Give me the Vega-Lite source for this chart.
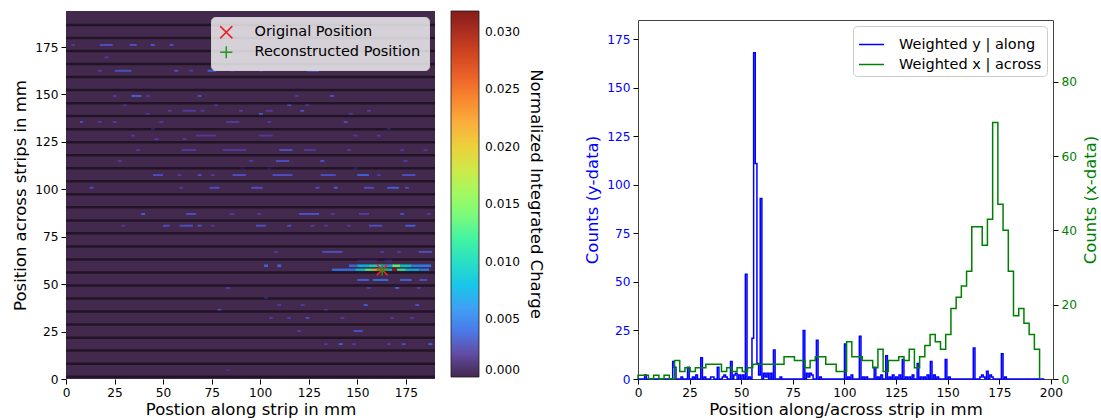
{
  "$schema": "https://vega.github.io/schema/vega-lite/v6.json",
  "padding": {"left": 12, "top": 11, "right": 2, "bottom": 0},
  "spacing": 40,
  "config": {
    "font": "DejaVu Sans",
    "view": {"stroke": null},
    "axis": {"labelFontSize": 12.2, "titleFontSize": 16.5, "titleFontWeight": "normal", "labelColor": "black", "titleColor": "black", "tickColor": "black", "domain": false, "grid": false, "tickSize": 5, "labelFlush": false, "labelOverlap": false, "labelPadding": 3, "titlePadding": 6},
    "axisX": {"titlePadding": 3, "labelPadding": 2},
    "legend": {"labelFontSize": 14.5, "titleFontWeight": "normal", "labelLimit": 400, "titleLimit": 500}
  },
  "datasets": {
    "cells": [
      {"x1":0,"x2":190,"y1":0,"y2":194,"q":0},
      {"x1":2.7,"x2":4.7,"y1":175.6,"y2":176.6,"q":0.0022},{"x1":17.4,"x2":24.1,"y1":175.6,"y2":176.6,"q":0.003},{"x1":32.8,"x2":36.4,"y1":175.6,"y2":176.6,"q":0.003},{"x1":43.6,"x2":45.6,"y1":175.6,"y2":176.6,"q":0.0038},{"x1":53.4,"x2":55.4,"y1":175.6,"y2":176.6,"q":0.003},
      {"x1":19.9,"x2":21.9,"y1":169.1,"y2":170.1,"q":0.0022},
      {"x1":16.4,"x2":18.4,"y1":162,"y2":163,"q":0.0022},{"x1":25.1,"x2":33.7,"y1":162,"y2":163,"q":0.003},{"x1":55.8,"x2":57.8,"y1":162,"y2":163,"q":0.003},{"x1":63.5,"x2":65.5,"y1":162,"y2":163,"q":0.0022},{"x1":72.9,"x2":77.3,"y1":162,"y2":163,"q":0.0038},{"x1":84.8,"x2":86.8,"y1":162,"y2":163,"q":0.0022},{"x1":99.4,"x2":101.4,"y1":162,"y2":163,"q":0.0022},{"x1":124.2,"x2":130.3,"y1":162,"y2":163,"q":0.003},
      {"x1":24.1,"x2":26.1,"y1":148.7,"y2":149.7,"q":0.0022},{"x1":33.7,"x2":38.8,"y1":148.7,"y2":149.7,"q":0.0038},{"x1":41.1,"x2":43.1,"y1":148.7,"y2":149.7,"q":0.0022},{"x1":67.8,"x2":69.8,"y1":148.7,"y2":149.7,"q":0.003},{"x1":118,"x2":120,"y1":148.7,"y2":149.7,"q":0.0022},{"x1":136,"x2":138,"y1":148.7,"y2":149.7,"q":0.003},
      {"x1":29.3,"x2":31.3,"y1":143.9,"y2":144.9,"q":0.0022},{"x1":76.3,"x2":78.3,"y1":143.9,"y2":144.9,"q":0.0022},{"x1":113.9,"x2":115.9,"y1":143.9,"y2":144.9,"q":0.003},{"x1":123.2,"x2":125.2,"y1":143.9,"y2":144.9,"q":0.0022},
      {"x1":52.4,"x2":54.4,"y1":140.9,"y2":141.9,"q":0.0022},{"x1":60,"x2":67,"y1":140.9,"y2":141.9,"q":0.0022},{"x1":69.3,"x2":71.3,"y1":140.9,"y2":141.9,"q":0.0022},{"x1":89.1,"x2":91.1,"y1":140.9,"y2":141.9,"q":0.0022},{"x1":103,"x2":106.4,"y1":140.9,"y2":141.9,"q":0.0022},{"x1":120.6,"x2":122.6,"y1":140.9,"y2":141.9,"q":0.003},{"x1":155,"x2":157,"y1":140.9,"y2":141.9,"q":0.0022},
      {"x1":41.1,"x2":43.1,"y1":139.2,"y2":140.2,"q":0.0022},{"x1":99.4,"x2":101.4,"y1":139.2,"y2":140.2,"q":0.0038},{"x1":145.6,"x2":147.6,"y1":139.2,"y2":140.2,"q":0.0022},
      {"x1":7.2,"x2":8.7,"y1":135,"y2":136,"q":0.003},{"x1":16.4,"x2":18.4,"y1":135,"y2":136,"q":0.0022},{"x1":24.1,"x2":26.1,"y1":135,"y2":136,"q":0.0022},{"x1":48.1,"x2":50.1,"y1":135,"y2":136,"q":0.0022},{"x1":82.4,"x2":89.3,"y1":135,"y2":136,"q":0.0022},{"x1":103.7,"x2":105.7,"y1":135,"y2":136,"q":0.0022},{"x1":143,"x2":145,"y1":135,"y2":136,"q":0.003},
      {"x1":43.8,"x2":45.8,"y1":131.3,"y2":132.3,"q":0.003},{"x1":165.2,"x2":167.2,"y1":131.3,"y2":132.3,"q":0.003},
      {"x1":33.5,"x2":35.5,"y1":127.8,"y2":128.8,"q":0.0022},{"x1":67,"x2":77.3,"y1":127.8,"y2":128.8,"q":0.0022},{"x1":99.5,"x2":106.4,"y1":127.8,"y2":128.8,"q":0.0022},{"x1":148.1,"x2":150.1,"y1":127.8,"y2":128.8,"q":0.0022},{"x1":160.1,"x2":162.1,"y1":127.8,"y2":128.8,"q":0.0022},
      {"x1":45.5,"x2":47.5,"y1":126,"y2":127,"q":0.0022},{"x1":60.1,"x2":62.1,"y1":126,"y2":127,"q":0.0022},
      {"x1":36.1,"x2":38.1,"y1":120.2,"y2":121.2,"q":0.0022},{"x1":59.4,"x2":67,"y1":120.2,"y2":121.2,"q":0.0022},{"x1":80.7,"x2":92.7,"y1":120.2,"y2":121.2,"q":0.0022},{"x1":109.8,"x2":116.6,"y1":120.2,"y2":121.2,"q":0.003},{"x1":122.6,"x2":128.6,"y1":120.2,"y2":121.2,"q":0.0022},{"x1":144.7,"x2":146.7,"y1":120.2,"y2":121.2,"q":0.0022},{"x1":172.1,"x2":174.1,"y1":120.2,"y2":121.2,"q":0.0022},{"x1":184.1,"x2":186.1,"y1":120.2,"y2":121.2,"q":0.0022},
      {"x1":26.7,"x2":28.7,"y1":114.4,"y2":115.4,"q":0.0022},{"x1":94.3,"x2":96.3,"y1":114.4,"y2":115.4,"q":0.0022},{"x1":108.1,"x2":114.9,"y1":114.4,"y2":115.4,"q":0.003},{"x1":131,"x2":133,"y1":114.4,"y2":115.4,"q":0.003},{"x1":173.8,"x2":175.8,"y1":114.4,"y2":115.4,"q":0.0022},
      {"x1":90,"x2":92,"y1":110.6,"y2":111.6,"q":0.0022},{"x1":103.7,"x2":105.7,"y1":110.6,"y2":111.6,"q":0.0022},{"x1":148.1,"x2":150.1,"y1":110.6,"y2":111.6,"q":0.003},
      {"x1":44.8,"x2":49.9,"y1":107,"y2":108,"q":0.003},{"x1":57.5,"x2":59.5,"y1":107,"y2":108,"q":0.0022},{"x1":67.8,"x2":69.8,"y1":107,"y2":108,"q":0.003},{"x1":74.6,"x2":76.6,"y1":107,"y2":108,"q":0.0022},{"x1":85.8,"x2":92.7,"y1":107,"y2":108,"q":0.003},{"x1":106.4,"x2":116.6,"y1":107,"y2":108,"q":0.003},{"x1":131.2,"x2":138.9,"y1":107,"y2":108,"q":0.003},{"x1":150,"x2":156,"y1":107,"y2":108,"q":0.0038},{"x1":160.1,"x2":162.1,"y1":107,"y2":108,"q":0.0022},{"x1":173.1,"x2":179.9,"y1":107,"y2":108,"q":0.003},
      {"x1":12.2,"x2":14.2,"y1":100.3,"y2":101.3,"q":0.003},{"x1":58.4,"x2":60.4,"y1":100.3,"y2":101.3,"q":0.0022},{"x1":73.9,"x2":79,"y1":100.3,"y2":101.3,"q":0.003},{"x1":95.3,"x2":101.2,"y1":100.3,"y2":101.3,"q":0.003},{"x1":128.5,"x2":130.5,"y1":100.3,"y2":101.3,"q":0.003},{"x1":137.9,"x2":139.9,"y1":100.3,"y2":101.3,"q":0.0038},{"x1":153.4,"x2":158.5,"y1":100.3,"y2":101.3,"q":0.003},{"x1":165.4,"x2":171.4,"y1":100.3,"y2":101.3,"q":0.0038},{"x1":174.6,"x2":176.6,"y1":100.3,"y2":101.3,"q":0.003},
      {"x1":38.7,"x2":40.7,"y1":86.5,"y2":87.5,"q":0.0038},{"x1":61.9,"x2":67,"y1":86.5,"y2":87.5,"q":0.003},{"x1":84.1,"x2":86.7,"y1":86.5,"y2":87.5,"q":0.0022},{"x1":98.5,"x2":100.5,"y1":86.5,"y2":87.5,"q":0.0022},{"x1":120,"x2":130.3,"y1":86.5,"y2":87.5,"q":0.003},{"x1":136.2,"x2":138.2,"y1":86.5,"y2":87.5,"q":0.0022},{"x1":150.8,"x2":156,"y1":86.5,"y2":87.5,"q":0.0022},{"x1":172.1,"x2":174.1,"y1":86.5,"y2":87.5,"q":0.003},{"x1":185.8,"x2":187.8,"y1":86.5,"y2":87.5,"q":0.0022},
      {"x1":28.4,"x2":30.4,"y1":80.3,"y2":81.3,"q":0.0022},{"x1":49.9,"x2":53.4,"y1":80.3,"y2":81.3,"q":0.003},{"x1":58.5,"x2":65.3,"y1":80.3,"y2":81.3,"q":0.003},{"x1":67.8,"x2":69.8,"y1":80.3,"y2":81.3,"q":0.003},{"x1":74.6,"x2":76.6,"y1":80.3,"y2":81.3,"q":0.0022},{"x1":97.8,"x2":103,"y1":80.3,"y2":81.3,"q":0.003},{"x1":113.9,"x2":115.9,"y1":80.3,"y2":81.3,"q":0.003},{"x1":125.9,"x2":127.9,"y1":80.3,"y2":81.3,"q":0.0022},{"x1":132.8,"x2":134.8,"y1":80.3,"y2":81.3,"q":0.0022},{"x1":144.7,"x2":146.7,"y1":80.3,"y2":81.3,"q":0.0022},{"x1":156,"x2":162.8,"y1":80.3,"y2":81.3,"q":0.003},{"x1":174.8,"x2":179.9,"y1":80.3,"y2":81.3,"q":0.0038},
      {"x1":107.1,"x2":109.1,"y1":66.5,"y2":67.5,"q":0.0022},{"x1":132,"x2":142.3,"y1":66.5,"y2":67.5,"q":0.003},{"x1":161.8,"x2":163.8,"y1":66.5,"y2":67.5,"q":0.0022},{"x1":170.4,"x2":172.4,"y1":66.5,"y2":67.5,"q":0.0022},{"x1":181.6,"x2":188.5,"y1":66.5,"y2":67.5,"q":0.003},
      {"x1":150,"x2":160,"y1":62,"y2":63,"q":0.0022},{"x1":164,"x2":168,"y1":62,"y2":63,"q":0.0022},
      {"x1":102,"x2":104,"y1":59,"y2":60.4,"q":0.0038},{"x1":108.8,"x2":110.8,"y1":59,"y2":60.4,"q":0.0038},{"x1":145.7,"x2":150,"y1":59,"y2":60.4,"q":0.004},{"x1":150,"x2":156,"y1":59,"y2":60.4,"q":0.008},{"x1":156,"x2":163,"y1":59,"y2":60.4,"q":0.01},{"x1":163,"x2":168,"y1":59,"y2":60.4,"q":0.007},{"x1":168,"x2":172,"y1":59,"y2":60.4,"q":0.014},{"x1":172,"x2":178,"y1":59,"y2":60.4,"q":0.009},{"x1":178,"x2":188,"y1":59,"y2":60.4,"q":0.005},
      {"x1":137,"x2":149,"y1":57,"y2":58.2,"q":0.0045},{"x1":149,"x2":154,"y1":57,"y2":58.2,"q":0.009},{"x1":154,"x2":158,"y1":57,"y2":58.2,"q":0.013},{"x1":158,"x2":162,"y1":57,"y2":58.2,"q":0.022},{"x1":162,"x2":166,"y1":57,"y2":58.2,"q":0.012},{"x1":166,"x2":168,"y1":57,"y2":58.2,"q":0.008},{"x1":168,"x2":170.5,"y1":57,"y2":58.2,"q":0.03},{"x1":170.5,"x2":175,"y1":57,"y2":58.2,"q":0.012},{"x1":175,"x2":182,"y1":57,"y2":58.2,"q":0.008},{"x1":182,"x2":187,"y1":57,"y2":58.2,"q":0.005},
      {"x1":150,"x2":156,"y1":51.7,"y2":52.7,"q":0.0038},{"x1":158,"x2":166,"y1":51.7,"y2":52.7,"q":0.0045},{"x1":172,"x2":178,"y1":51.7,"y2":52.7,"q":0.0038},{"x1":182,"x2":186,"y1":51.7,"y2":52.7,"q":0.003},
      {"x1":82.3,"x2":84.3,"y1":47.5,"y2":48.5,"q":0.0022},{"x1":155,"x2":157,"y1":47.5,"y2":48.5,"q":0.0022},{"x1":169.5,"x2":171.5,"y1":47.5,"y2":48.5,"q":0.0038},{"x1":180.6,"x2":182.6,"y1":47.5,"y2":48.5,"q":0.0022},
      {"x1":102,"x2":104,"y1":42.2,"y2":43.2,"q":0.003},
      {"x1":108.8,"x2":110.8,"y1":38.5,"y2":39.5,"q":0.0022},{"x1":120.8,"x2":122.8,"y1":38.5,"y2":39.5,"q":0.0022},{"x1":153.3,"x2":155.3,"y1":38.5,"y2":39.5,"q":0.0038},{"x1":179.8,"x2":181.8,"y1":38.5,"y2":39.5,"q":0.003},
      {"x1":78,"x2":80,"y1":35.9,"y2":36.9,"q":0.003},{"x1":132.8,"x2":134.8,"y1":35.9,"y2":36.9,"q":0.0022},
      {"x1":104.5,"x2":106.5,"y1":31.7,"y2":32.7,"q":0.0022},{"x1":113.9,"x2":115.9,"y1":31.7,"y2":32.7,"q":0.0022},{"x1":123.3,"x2":125.3,"y1":31.7,"y2":32.7,"q":0.003},{"x1":141.3,"x2":143.3,"y1":31.7,"y2":32.7,"q":0.0022},{"x1":166.9,"x2":168.9,"y1":31.7,"y2":32.7,"q":0.0022},{"x1":177.2,"x2":179.2,"y1":31.7,"y2":32.7,"q":0.0022},
      {"x1":119,"x2":121,"y1":24.8,"y2":25.8,"q":0.0022},{"x1":148.1,"x2":152.7,"y1":24.8,"y2":25.8,"q":0.003},
      {"x1":132.8,"x2":134.8,"y1":17.9,"y2":18.9,"q":0.0022},{"x1":140.5,"x2":142.5,"y1":17.9,"y2":18.9,"q":0.0038},{"x1":147.3,"x2":149.3,"y1":17.9,"y2":18.9,"q":0.0022},{"x1":165.2,"x2":167.2,"y1":17.9,"y2":18.9,"q":0.0022},{"x1":172.9,"x2":174.9,"y1":17.9,"y2":18.9,"q":0.003},{"x1":186.6,"x2":188.6,"y1":17.9,"y2":18.9,"q":0.0038},
      {"x1":82.3,"x2":84.3,"y1":4.2,"y2":5.2,"q":0.0018}
    ],
    "gaps": [
      {"g":186.6},{"g":179.8},{"g":172.9},{"g":166.0},{"g":159.2},{"g":152.3},{"g":145.4},{"g":138.6},{"g":131.7},{"g":124.8},{"g":118.0},{"g":111.1},{"g":104.2},{"g":97.4},{"g":90.5},{"g":83.6},{"g":76.8},{"g":69.9},{"g":63.0},{"g":56.2},{"g":49.3},{"g":42.4},{"g":35.6},{"g":28.7},{"g":21.8},{"g":15.0},{"g":8.1},{"g":1.2}
    ],
    "markers": [
      {"mx":162.8,"my":57.5,"label":"Original Position"},
      {"mx":162.8,"my":57.5,"label":"Reconstructed Position"}
    ],
    "blue": [
      {"x":0,"c":0},{"x":3.2,"c":2},{"x":4.0,"c":0},
      {"x":16.8,"c":9},{"x":17.6,"c":6},{"x":18.4,"c":0},
      {"x":20.8,"c":1},{"x":21.6,"c":0},
      {"x":24.0,"c":6},{"x":24.8,"c":0},
      {"x":26.4,"c":1},{"x":27.2,"c":0},
      {"x":28.0,"c":2},{"x":28.8,"c":0},
      {"x":30.4,"c":11},{"x":31.2,"c":0},
      {"x":32.0,"c":1},{"x":32.8,"c":0},
      {"x":35.2,"c":1},{"x":36.0,"c":1},{"x":36.8,"c":0},
      {"x":38.4,"c":6},{"x":39.2,"c":0},
      {"x":40.8,"c":1},{"x":41.6,"c":2},{"x":42.4,"c":1},{"x":43.2,"c":0},
      {"x":44.8,"c":9},{"x":45.6,"c":0},
      {"x":46.4,"c":2},{"x":47.2,"c":3},{"x":48.0,"c":0},
      {"x":48.8,"c":2},{"x":49.6,"c":0},
      {"x":50.4,"c":2},{"x":51.2,"c":0},
      {"x":52.0,"c":54},{"x":52.8,"c":0},
      {"x":53.6,"c":1},{"x":54.4,"c":0},
      {"x":55.2,"c":21},{"x":56.0,"c":168},{"x":56.8,"c":111},{"x":57.6,"c":8},{"x":58.4,"c":2},{"x":59.2,"c":93},{"x":60.0,"c":0},
      {"x":60.8,"c":3},{"x":61.6,"c":1},{"x":62.4,"c":3},{"x":63.2,"c":0},
      {"x":64.0,"c":3},{"x":64.8,"c":0},
      {"x":65.6,"c":15},{"x":66.4,"c":0},
      {"x":68.8,"c":1},{"x":69.6,"c":0},
      {"x":80.0,"c":25},{"x":80.8,"c":0},
      {"x":81.6,"c":3},{"x":82.4,"c":1},{"x":83.2,"c":3},{"x":84.0,"c":2},{"x":84.8,"c":0},
      {"x":86.4,"c":20},{"x":87.2,"c":0},
      {"x":88.0,"c":1},{"x":88.8,"c":0},
      {"x":100.0,"c":18},{"x":100.8,"c":0},
      {"x":101.6,"c":1},{"x":102.4,"c":0},
      {"x":103.2,"c":2},{"x":104.0,"c":0},
      {"x":107.2,"c":22},{"x":108.0,"c":0},
      {"x":108.8,"c":1},{"x":109.6,"c":0},
      {"x":110.4,"c":1},{"x":111.2,"c":0},
      {"x":114.4,"c":6},{"x":115.2,"c":0},
      {"x":116.0,"c":1},{"x":116.8,"c":0},
      {"x":117.6,"c":2},{"x":118.4,"c":0},
      {"x":120.0,"c":12},{"x":120.8,"c":0},
      {"x":121.6,"c":1},{"x":122.4,"c":0},
      {"x":123.2,"c":2},{"x":124.0,"c":0},
      {"x":124.8,"c":1},{"x":125.6,"c":0},
      {"x":126.4,"c":2},{"x":127.2,"c":0},
      {"x":128.0,"c":10},{"x":128.8,"c":0},
      {"x":129.6,"c":1},{"x":130.4,"c":0},
      {"x":131.2,"c":1},{"x":132.0,"c":0},
      {"x":132.8,"c":2},{"x":133.6,"c":0},
      {"x":135.2,"c":8},{"x":136.0,"c":0},
      {"x":136.8,"c":1},{"x":137.6,"c":0},
      {"x":138.4,"c":1},{"x":139.2,"c":0},
      {"x":140.0,"c":2},{"x":140.8,"c":0},
      {"x":141.6,"c":9},{"x":142.4,"c":0},
      {"x":143.2,"c":2},{"x":144.0,"c":0},
      {"x":144.8,"c":1},{"x":145.6,"c":0},
      {"x":148.8,"c":10},{"x":149.6,"c":0},
      {"x":150.4,"c":1},{"x":151.2,"c":0},
      {"x":162.4,"c":16},{"x":163.2,"c":0},
      {"x":165.6,"c":1},{"x":166.4,"c":2},{"x":167.2,"c":1},{"x":168.0,"c":0},
      {"x":168.8,"c":4},{"x":169.6,"c":0},
      {"x":170.4,"c":2},{"x":171.2,"c":1},{"x":172.0,"c":0},
      {"x":176.0,"c":13},{"x":176.8,"c":0},
      {"x":177.6,"c":1},{"x":178.4,"c":0},
      {"x":196.8,"c":0}
    ],
    "green": [
      {"i":0,"x":0,"c":0},{"i":1,"x":0,"c":1},{"i":2,"x":2.53,"c":1},{"i":3,"x":5.05,"c":0},{"i":4,"x":7.58,"c":1},{"i":5,"x":10.1,"c":0},{"i":6,"x":12.63,"c":1},{"i":7,"x":15.16,"c":0},{"i":8,"x":17.68,"c":5},{"i":9,"x":20.21,"c":2},{"i":10,"x":22.73,"c":3},
      {"i":11,"x":25.26,"c":2},{"i":12,"x":27.79,"c":3},{"i":13,"x":30.31,"c":3},{"i":14,"x":32.84,"c":4},{"i":15,"x":35.36,"c":4},{"i":16,"x":37.89,"c":4},{"i":17,"x":40.42,"c":2},{"i":18,"x":42.94,"c":3},{"i":19,"x":45.47,"c":2},{"i":20,"x":47.99,"c":3},
      {"i":21,"x":50.52,"c":2},{"i":22,"x":53.05,"c":3},{"i":23,"x":55.57,"c":4},{"i":24,"x":58.1,"c":4},{"i":25,"x":60.62,"c":4},{"i":26,"x":63.15,"c":4},{"i":27,"x":65.68,"c":4},{"i":28,"x":68.2,"c":4},{"i":29,"x":70.73,"c":6},{"i":30,"x":73.25,"c":6},
      {"i":31,"x":75.78,"c":5},{"i":32,"x":78.31,"c":5},{"i":33,"x":80.83,"c":3},{"i":34,"x":83.36,"c":5},{"i":35,"x":85.88,"c":6},{"i":36,"x":88.41,"c":6},{"i":37,"x":90.94,"c":4},{"i":38,"x":93.46,"c":4},{"i":39,"x":95.99,"c":2},{"i":40,"x":98.51,"c":2},
      {"i":41,"x":101.04,"c":10},{"i":42,"x":103.57,"c":6},{"i":43,"x":106.09,"c":6},{"i":44,"x":108.62,"c":5},{"i":45,"x":111.14,"c":5},{"i":46,"x":113.67,"c":3},{"i":47,"x":116.2,"c":8},{"i":48,"x":118.72,"c":2},{"i":49,"x":121.25,"c":5},{"i":50,"x":123.77,"c":5},
      {"i":51,"x":126.3,"c":6},{"i":52,"x":128.83,"c":5},{"i":53,"x":131.35,"c":8},{"i":54,"x":133.88,"c":3},{"i":55,"x":136.4,"c":6},{"i":56,"x":138.93,"c":9},{"i":57,"x":141.46,"c":12},{"i":58,"x":143.98,"c":10},{"i":59,"x":146.51,"c":8},{"i":60,"x":149.03,"c":12},
      {"i":61,"x":151.56,"c":19},{"i":62,"x":154.09,"c":22},{"i":63,"x":156.61,"c":25},{"i":64,"x":159.14,"c":29},{"i":65,"x":161.66,"c":41},{"i":66,"x":164.19,"c":41},{"i":67,"x":166.72,"c":36},{"i":68,"x":169.24,"c":43},{"i":69,"x":171.77,"c":69},{"i":70,"x":174.29,"c":47},
      {"i":71,"x":176.82,"c":40},{"i":72,"x":179.35,"c":29},{"i":73,"x":181.87,"c":17},{"i":74,"x":184.4,"c":19},{"i":75,"x":186.92,"c":15},{"i":76,"x":189.45,"c":12},{"i":77,"x":191.98,"c":8},{"i":78,"x":194.5,"c":0}
    ]
  },
  "hconcat": [
    {
      "width": 369,
      "height": 368,
      "layer": [
        {
          "data": {"name": "cells"},
          "mark": {"type": "rect", "opacity": 0.9},
          "encoding": {
            "x": {"field": "x1", "type": "quantitative", "title": "Postion along strip in mm", "scale": {"domain": [0, 190], "nice": false, "zero": false}, "axis": {"values": [0, 25, 50, 75, 100, 125, 150, 175]}},
            "x2": {"field": "x2"},
            "y": {"field": "y1", "type": "quantitative", "title": "Position across strips in mm", "scale": {"domain": [0, 194], "nice": false, "zero": false}, "axis": {"values": [0, 25, 50, 75, 100, 125, 150, 175]}},
            "y2": {"field": "y2"},
            "fill": {
              "field": "q", "type": "quantitative",
              "scale": {"domain": [0, 0.00318, 0.00636, 0.00954, 0.01272, 0.0159, 0.01908, 0.02226, 0.02544, 0.02862, 0.0318], "range": ["#30123b", "#4958dd", "#2f9ef5", "#27d7c3", "#4ef983", "#96fa50", "#dfdc32", "#fca32a", "#f45c17", "#c42806", "#7a0403"], "clamp": true},
              "legend": {"orient": "right", "offset": 16, "direction": "vertical", "gradientLength": 366, "gradientThickness": 28, "gradientStrokeColor": "black", "gradientStrokeWidth": 0.8, "values": [0, 0.005, 0.01, 0.015, 0.02, 0.025, 0.03], "format": ".3f", "labelFontSize": 12.2, "labelOffset": 6, "title": "Normalized Integrated Charge", "titleOrient": "right", "titleAngle": 270, "titleFontSize": 16.5, "titleAnchor": "middle", "titlePadding": 8, "encode": {"title": {"update": {"angle": {"value": 270}}}}}
            }
          }
        },
        {
          "data": {"name": "gaps"},
          "mark": {"type": "rule", "color": "black", "opacity": 0.5, "strokeWidth": 2.5},
          "encoding": {"y": {"field": "g", "type": "quantitative", "title": "Position across strips in mm"}}
        },
        {
          "data": {"name": "markers"},
          "mark": {"type": "point", "filled": false, "strokeWidth": 1.5, "size": 120, "opacity": 1},
          "encoding": {
            "x": {"field": "mx", "type": "quantitative", "title": "Postion along strip in mm"},
            "y": {"field": "my", "type": "quantitative", "title": "Position across strips in mm"},
            "stroke": {"field": "label", "type": "nominal", "scale": {"domain": ["Original Position", "Reconstructed Position"], "range": ["#ee2222", "#1f9a1f"]}, "legend": {"orient": "top-right", "offset": 6, "title": null, "fillColor": "rgba(255,255,255,0.78)", "strokeColor": "#cccccc", "cornerRadius": 4, "padding": 8, "labelFontSize": 14.5, "symbolSize": 150, "symbolStrokeWidth": 1.5, "rowPadding": 1, "labelOffset": 21, "labelLimit": 400}},
            "shape": {"field": "label", "type": "nominal", "scale": {"domain": ["Original Position", "Reconstructed Position"], "range": ["M-1,-1L1,1M-1,1L1,-1", "M-1,0L1,0M0,-1L0,1"]}}
          }
        }
      ]
    },
    {
      "spacing": 7,
      "resolve": {"scale": {"x": "independent", "y": "independent", "color": "independent"}, "legend": {"color": "independent"}},
      "vconcat": [
        {
          "width": 415,
          "height": 1,
          "data": {"values": []},
          "mark": {"type": "point"}
        },
        {
          "width": 415,
          "height": 359,
          "view": {"stroke": "#444444", "strokeWidth": 1},
          "layer": [
            {
              "data": {"name": "blue"},
              "mark": {"type": "line", "interpolate": "step-after", "strokeWidth": 1.5},
              "encoding": {
                "x": {"field": "x", "type": "quantitative", "title": "Position along/across strip in mm", "scale": {"domain": [0, 201], "nice": false, "zero": false}, "axis": {"values": [0, 25, 50, 75, 100, 125, 150, 175, 200]}},
                "y": {"field": "c", "type": "quantitative", "title": "Counts (y-data)", "scale": {"domain": [0, 184.9], "nice": false}, "axis": {"orient": "left", "values": [0, 25, 50, 75, 100, 125, 150, 175], "labelColor": "#0000ff", "titleColor": "#0000ff"}},
                "color": {"datum": "Weighted y | along", "type": "nominal", "scale": {"domain": ["Weighted y | along", "Weighted x | across"], "range": ["#0000ff", "#008000"]}, "legend": {"orient": "top-right", "offset": 6, "title": null, "fillColor": "white", "strokeColor": "#cccccc", "cornerRadius": 4, "padding": 5, "labelFontSize": 14.5, "symbolType": "stroke", "symbolStrokeWidth": 1.5, "symbolSize": 625, "rowPadding": -4, "labelOffset": 14}}
              }
            },
            {
              "data": {"name": "green"},
              "mark": {"type": "line", "interpolate": "step-after", "strokeWidth": 1.5},
              "encoding": {
                "x": {"field": "x", "type": "quantitative", "title": "Position along/across strip in mm"},
                "y": {"field": "c", "type": "quantitative", "title": "Counts (x-data)", "scale": {"domain": [0, 96.6], "nice": false}, "axis": {"orient": "right", "values": [0, 20, 40, 60, 80], "labelColor": "#008000", "titleColor": "#008000", "titleAngle": 270, "titleBaseline": "top"}},
                "order": {"field": "i", "type": "quantitative"},
                "color": {"datum": "Weighted x | across", "type": "nominal"}
              }
            }
          ],
          "resolve": {"scale": {"y": "independent"}}
        }
      ]
    }
  ],
  "resolve": {"scale": {"x": "independent", "y": "independent", "fill": "independent", "stroke": "independent", "shape": "independent", "color": "independent"}}
}
